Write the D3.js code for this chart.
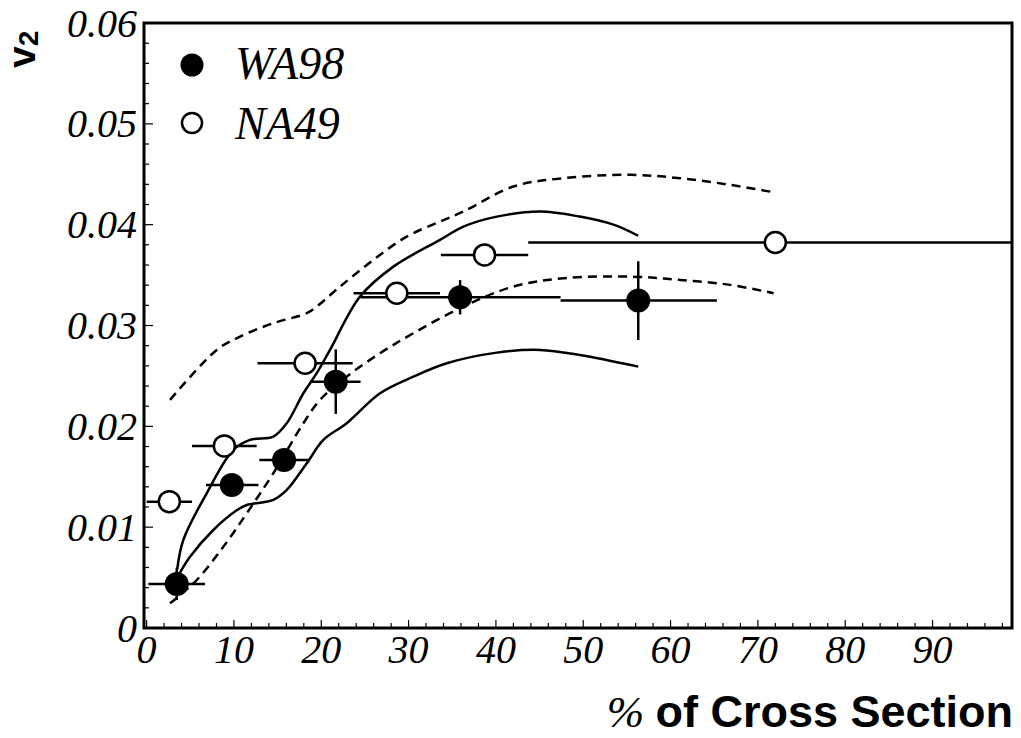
<!DOCTYPE html>
<html><head><meta charset="utf-8">
<script src="https://cdn.jsdelivr.net/npm/d3@7"></script>
<style>body{margin:0;background:#fff}</style>
</head><body>
<svg id="c" width="1021" height="738"></svg>
<script>
// ---- data ----
const xTicks = [0,10,20,30,40,50,60,70,80,90];
const yTicks = [0,0.01,0.02,0.03,0.04,0.05,0.06];
const yTickLabels = ["0","0.01","0.02","0.03","0.04","0.05","0.06"];
const wa98X   = [3.45, 9.75, 15.74, 21.66, 35.9, 56.3];
const wa98Y   = [0.00437, 0.01419, 0.01667, 0.02443, 0.0328, 0.03247];
const wa98XLo = [0.2, 6.8, 12.9, 18.7, 24.5, 47.4];
const wa98XHi = [6.7, 12.8, 18.7, 24.5, 47.4, 65.3];
const wa98YErr= [0.0016, 0.0009, 0.0009, 0.0032, 0.0017, 0.0039];
const na49X   = [2.6, 8.9, 18.15, 28.65, 38.7, 72.0];
const na49Y   = [0.01253, 0.01806, 0.02626, 0.0332, 0.0370, 0.03823];
const na49XLo = [0.0, 5.2, 12.7, 23.7, 33.7, 43.7];
const na49XHi = [5.2, 12.6, 23.6, 33.6, 43.7, 100];
const solidUpperX = [3.5, 4.2, 6.88, 9.93, 11.84, 14.51, 16.05, 17.95, 19.48, 21.0, 24.44, 28.26, 33.6, 36.28, 40.1, 45.06, 49.6, 53.46, 56.3];
const solidUpperY = [0.0058, 0.00873, 0.01336, 0.01766, 0.01865, 0.01898, 0.02031, 0.02328, 0.02527, 0.02758, 0.03287, 0.03584, 0.03849, 0.03981, 0.0408, 0.0413, 0.0408, 0.0400, 0.0389];
const solidLowerX = [3.5, 4.97, 7.64, 10.32, 11.47, 14.51, 16.05, 18.34, 20.24, 22.92, 26.73, 30.55, 34.38, 40.1, 45.06, 49.6, 56.3];
const solidLowerY = [0.0050, 0.00707, 0.00972, 0.01167, 0.0122, 0.0127, 0.01369, 0.01634, 0.01865, 0.02031, 0.02328, 0.02493, 0.02626, 0.02731, 0.02758, 0.02708, 0.02592];
const dashUpperX = [2.68, 8.03, 10.7, 14.51, 18.34, 19.48, 22.15, 25.97, 29.79, 33.6, 36.28, 42.0, 47.73, 55.37, 61.1, 66.82, 71.8];
const dashUpperY = [0.02262, 0.02758, 0.0289, 0.03023, 0.03122, 0.03188, 0.03386, 0.03651, 0.03882, 0.04031, 0.0413, 0.04378, 0.04461, 0.04494, 0.04461, 0.04395, 0.04322];
const dashLowerX = [2.68, 5.74, 8.79, 11.47, 14.51, 17.95, 19.86, 22.92, 26.73, 30.55, 36.28, 42.0, 47.73, 55.37, 61.1, 66.82, 71.8];
const dashLowerY = [0.00245, 0.00476, 0.00807, 0.01138, 0.01535, 0.02031, 0.02262, 0.02493, 0.02725, 0.02924, 0.03188, 0.03386, 0.03469, 0.03485, 0.03452, 0.03403, 0.0332];
const legendNames = ["WA98", "NA49"];

// ---- layout ----
const L = 144, R = 1012, T = 23, B = 628;
const x = d3.scaleLinear().domain([-0.3, 99.1]).range([L, R]);
const y = d3.scaleLinear().domain([0, 0.06]).range([B, T]);
const svg = d3.select("#c");
const serif = "'Liberation Serif','DejaVu Serif',serif";
const sans = "'Liberation Sans',Arial,sans-serif";

svg.append("clipPath").attr("id","clip").append("rect")
  .attr("x", L).attr("y", T).attr("width", R-L).attr("height", B-T);
const g = svg.append("g").attr("clip-path","url(#clip)");

// curves
function curve(xs, ys, dash){
  const pts = xs.map((v,i)=>[v, ys[i]]);
  g.append("path").datum(pts)
    .attr("d", d3.line().x(d=>x(d[0])).y(d=>y(d[1])).curve(d3.curveCatmullRom.alpha(0.5)))
    .attr("fill","none").attr("stroke","#000").attr("stroke-width",2.5)
    .attr("stroke-dasharray", dash ? "9,6" : null);
}
curve(solidUpperX, solidUpperY, false);
curve(solidLowerX, solidLowerY, false);
curve(dashUpperX, dashUpperY, true);
curve(dashLowerX, dashLowerY, true);

// error bars
function hbars(xs, ys, lo, hi){
  g.selectAll(null).data(xs).enter().append("line")
    .attr("x1",(d,i)=>x(lo[i])).attr("x2",(d,i)=>x(hi[i]))
    .attr("y1",(d,i)=>y(ys[i])).attr("y2",(d,i)=>y(ys[i]))
    .attr("stroke","#000").attr("stroke-width",2.5);
}
hbars(wa98X, wa98Y, wa98XLo, wa98XHi);
hbars(na49X, na49Y, na49XLo, na49XHi);
g.selectAll(null).data(wa98X).enter().append("line")
  .attr("x1",d=>x(d)).attr("x2",d=>x(d))
  .attr("y1",(d,i)=>y(wa98Y[i]-wa98YErr[i])).attr("y2",(d,i)=>y(wa98Y[i]+wa98YErr[i]))
  .attr("stroke","#000").attr("stroke-width",2.5);

// markers
g.selectAll(null).data(wa98X).enter().append("circle")
  .attr("cx",d=>x(d)).attr("cy",(d,i)=>y(wa98Y[i])).attr("r",12).attr("fill","#000");
g.selectAll(null).data(na49X).enter().append("circle")
  .attr("cx",d=>x(d)).attr("cy",(d,i)=>y(na49Y[i])).attr("r",10.5)
  .attr("fill","#fff").attr("stroke","#000").attr("stroke-width",2.5);

// axes ticks (inward)
const minorX = d3.range(0, 99, 2);
const minorY = d3.range(0, 0.0601, 0.002);
svg.selectAll(null).data(minorX).enter().append("line")
  .attr("x1",d=>x(d)).attr("x2",d=>x(d)).attr("y1",B).attr("y2",d=> d%10===0 ? B-8 : B-5)
  .attr("stroke","#000").attr("stroke-width",1.2);
svg.selectAll(null).data(minorY).enter().append("line")
  .attr("x1",L).attr("x2",(d,i)=> i%5===0 ? L+9 : L+5).attr("y1",d=>y(d)).attr("y2",d=>y(d))
  .attr("stroke","#000").attr("stroke-width",1.2);

// frame
svg.append("path").attr("d",`M${L},${T}H${R}V${B}H${L}Z`)
  .attr("fill","none").attr("stroke","#000").attr("stroke-width",3);

// tick labels
svg.selectAll(null).data(xTicks).enter().append("text")
  .attr("x",d=>x(d)).attr("y",663).attr("text-anchor","middle")
  .attr("font-family",serif).attr("font-style","italic").attr("font-size",40)
  .text(d=>d);
svg.selectAll(null).data(yTicks).enter().append("text")
  .attr("x",137).attr("y",d=>y(d)).attr("dy","0.34em").attr("text-anchor","end")
  .attr("font-family",serif).attr("font-style","italic").attr("font-size",40)
  .text((d,i)=>yTickLabels[i]);

// legend
const leg = svg.append("g");
leg.append("circle").attr("cx",192).attr("cy",65).attr("r",11.5).attr("fill","#000");
leg.append("circle").attr("cx",192).attr("cy",123).attr("r",10)
  .attr("fill","#fff").attr("stroke","#000").attr("stroke-width",2.5);
leg.selectAll(null).data(legendNames).enter().append("text")
  .attr("x",235).attr("y",(d,i)=>[79,139][i])
  .attr("font-family",serif).attr("font-style","italic").attr("font-size",46)
  .text(d=>d);

// y label
const yl = svg.append("text").attr("transform","translate(35,68) rotate(-90)")
  .attr("font-family",sans).attr("font-weight","bold").attr("font-size",39);
yl.append("tspan").text("v");
yl.append("tspan").attr("font-size",28).attr("dy",3).text("2");

// x label
const xl = svg.append("text").attr("x",1013).attr("y",727).attr("text-anchor","end")
  .attr("font-size",45);
xl.append("tspan").attr("font-family",serif).attr("font-style","italic").text("% ");
xl.append("tspan").attr("font-family",sans).attr("font-weight","bold").text("of Cross Section");
</script>
</body></html>
